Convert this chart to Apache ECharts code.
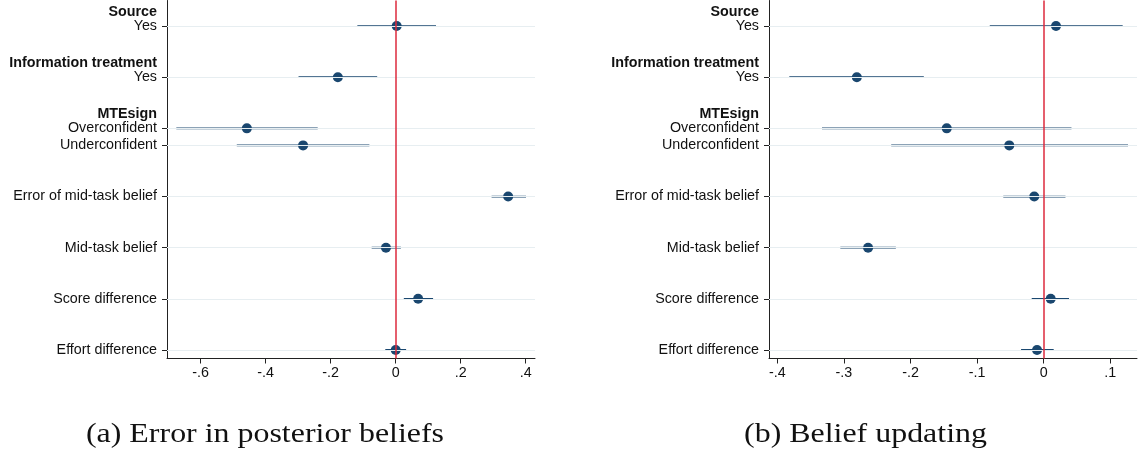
<!DOCTYPE html>
<html><head><meta charset="utf-8">
<script src="https://cdn.jsdelivr.net/npm/echarts@6/dist/echarts.min.js"></script>
<style>html,body{margin:0;padding:0;background:#fff}#c{width:1140px;height:456px}</style>
</head><body><div id="c"></div>
<script>
// Row categories (top to bottom); blanks are spacer rows, headers are bold group titles
const categories = ['Source','Yes','','Information treatment','Yes','','MTEsign','Overconfident','Underconfident','','','Error of mid-task belief','','','Mid-task belief','','','Score difference','','','Effort difference'];
const headers = ['Source','Information treatment','MTEsign'];

// Panel (a) Error in posterior beliefs: point estimates and 95% CI bounds (rows in order)
const estA = [0.003, -0.178, -0.458, -0.285, 0.346, -0.030, 0.069, 0.000];
const loA  = [-0.118, -0.299, -0.675, -0.489, 0.295, -0.074, 0.025, -0.032];
const hiA  = [0.124, -0.057, -0.240, -0.081, 0.401, 0.016, 0.115, 0.032];

// Panel (b) Belief updating
const estB = [0.0185, -0.2806, -0.1456, -0.0517, -0.0142, -0.2637, 0.0105, -0.0100];
const loB  = [-0.081, -0.382, -0.333, -0.229, -0.0607, -0.3054, -0.018, -0.034];
const hiB  = [0.1186, -0.180, 0.0417, 0.1266, 0.0327, -0.222, 0.038, 0.015];

// Tick labels
const ticksA = [-0.6, -0.4, -0.2, 0, 0.2, 0.4];
const ticksB = [-0.4, -0.3, -0.2, -0.1, 0, 0.1];

// Captions
const captionA = '(a) Error in posterior beliefs';
const captionB = '(b) Belief updating';

const NAVY = '#1a476f';
const RED = '#dc2a3c';
const GRID = '#e7eef1';
const TXT = '#111';
const FONT = '"Liberation Sans", Arial, Helvetica, sans-serif';
const FS = 14.3;

const isDataRow = i => categories[i] !== '' && headers.indexOf(categories[i]) < 0;
const rowIdx = categories.map((c, i) => i).filter(isDataRow);

function fmtTick(v) {
  if (Math.abs(v) < 1e-9) return '0';
  return (v < 0 ? '-' : '') + Math.abs(v).toFixed(1).replace(/^0/, '');
}

const grids = [], xAxes = [], yAxes = [], series = [];

function panel(k, left, width, min, max, ticks, est, lo, hi) {
  grids.push({left: left, top: 0.5, width: width, height: 358, containLabel: false});
  xAxes.push({
    type: 'value', gridIndex: k, min: min, max: max,
    axisLine: {show: true, onZero: false, lineStyle: {color: '#222', width: 1}},
    axisTick: {show: true, length: 5, customValues: ticks, lineStyle: {color: '#222'}},
    axisLabel: {show: true, customValues: ticks, margin: 8, fontSize: FS, color: TXT, fontFamily: FONT, formatter: fmtTick},
    splitLine: {show: false}
  });
  yAxes.push({
    type: 'category', gridIndex: k, data: categories, inverse: true, boundaryGap: true,
    axisLine: {show: true, onZero: false, lineStyle: {color: '#222', width: 1}},
    axisTick: {show: true, alignWithLabel: true, length: 5, interval: (i) => isDataRow(i), lineStyle: {color: '#222'}},
    axisLabel: {
      show: true, interval: 0, margin: 10, fontSize: FS, color: TXT, fontFamily: FONT,
      formatter: (v, i) => headers.indexOf(v) >= 0 ? '{h|' + v + '}' : v,
      rich: {h: {fontWeight: 'bold', fontSize: FS, color: TXT, fontFamily: FONT, padding: [6, 0, 0, 0]}}
    },
    splitLine: {show: false}
  });
  // horizontal grid lines at each data row
  series.push({
    type: 'scatter', xAxisIndex: k, yAxisIndex: k, data: [], z: 1, silent: true,
    markLine: {
      silent: true, symbol: 'none', label: {show: false}, animation: false,
      lineStyle: {type: 'solid', color: GRID, width: 1},
      data: rowIdx.map(r => ({yAxis: r}))
    }
  });
  // zero reference line
  series.push({
    type: 'scatter', xAxisIndex: k, yAxisIndex: k, data: [], z: 2, silent: true,
    markLine: {
      silent: true, symbol: 'none', label: {show: false}, animation: false,
      lineStyle: {type: 'solid', color: RED, width: 1.5, opacity: 1},
      data: [{xAxis: 0}]
    }
  });
  // confidence intervals: one short horizontal line series per row
  rowIdx.forEach((r, i) => {
    series.push({
      type: 'line', xAxisIndex: k, yAxisIndex: k, z: 3, silent: true,
      showSymbol: false, symbol: 'none',
      lineStyle: {color: NAVY, width: 1.8, opacity: 1},
      itemStyle: {color: NAVY},
      data: [[lo[i], r], [hi[i], r]]
    });
  });
  // point estimates
  series.push({
    type: 'scatter', xAxisIndex: k, yAxisIndex: k, z: 4, silent: true,
    symbol: 'circle', symbolSize: 10, itemStyle: {color: NAVY, opacity: 1},
    data: rowIdx.map((r, i) => [est[i], r])
  });
}

panel(0, 167, 368, -0.7037, 0.4286, ticksA, estA, loA, hiA);
panel(1, 769, 368, -0.4125, 0.1401, ticksB, estB, loB, hiB);

const capStyle = {fontFamily: '"Liberation Serif", "Times New Roman", serif', fontSize: 28, fill: '#111', align: 'center', verticalAlign: 'middle'};

const chart = echarts.init(document.getElementById('c'), null, {renderer: 'canvas'});
chart.setOption({
  animation: false,
  backgroundColor: '#fff',
  grid: grids, xAxis: xAxes, yAxis: yAxes, series: series,
  graphic: [
    {type: 'text', x: 265, y: 435, scaleX: 1.14, silent: true, style: Object.assign({text: captionA, x: 0, y: 0}, capStyle)},
    {type: 'text', x: 865.5, y: 435, scaleX: 1.14, silent: true, style: Object.assign({text: captionB, x: 0, y: 0}, capStyle)}
  ]
});
</script>
</body></html>
